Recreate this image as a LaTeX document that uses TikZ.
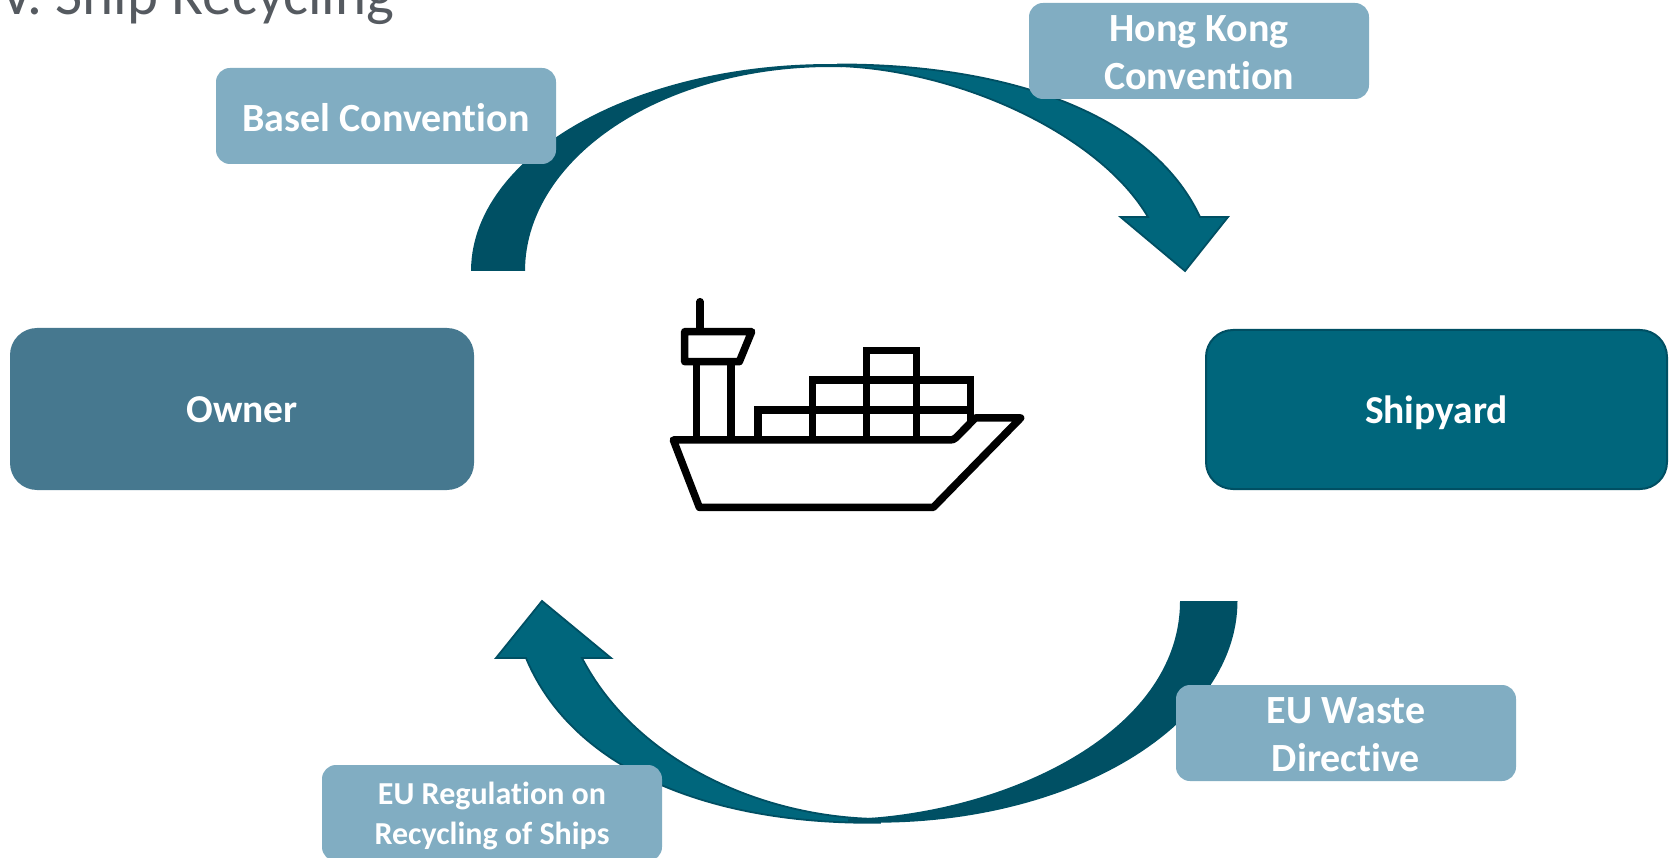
\documentclass[tikz,border=0pt]{standalone}
\usepackage{fontspec}
\setmainfont[Ligatures=NoCommon]{Carlito}
\definecolor{bandDark}{HTML}{005064}
\definecolor{bandLight}{HTML}{00667C}
\definecolor{edgeDark}{HTML}{004F63}
\definecolor{ownerBlue}{HTML}{46788F}
\definecolor{labelBlue}{HTML}{81ADC2}
\definecolor{titleGrey}{HTML}{555A60}
\newcommand{\topline}[1]{\rule{0pt}{#1pt}}
\newcommand{\botline}[1]{\rule[-#1pt]{0pt}{#1pt}}
\tikzset{
  labelbox/.style={fill=labelBlue,draw=none,rounded corners=14pt,minimum width=340pt,minimum height=96pt,inner sep=0pt,text=white,align=center,font=\fontsize{40}{48}\selectfont\bfseries},
  smalllabel/.style={labelbox,font=\fontsize{32}{40}\selectfont\bfseries},
  singleline/.style={text height=38pt,text depth=10pt},
  partybox/.style={rounded corners=27pt,inner sep=0pt,text=white,singleline,font=\fontsize{39.5}{44}\selectfont\bfseries},
  backband/.style={fill=bandDark,draw=none},
  frontarrow/.style={fill=bandLight,draw=edgeDark,line width=1.8pt,line join=miter},
  shipline/.style={draw=black,line width=7.5pt,line join=round,line cap=round},
  shipbar/.style={draw=black,line width=7.5pt,line join=miter,line cap=butt}
}
\begin{document}
\begin{tikzpicture}[x=1pt,y=-1pt]
\useasboundingbox (0,0) rectangle (1671,858);
\clip (0,0) rectangle (1671,858);
\node[anchor=base west,inner sep=0pt,text=titleGrey,font=\fontsize{59}{60}\selectfont] (title) at (0,15) {V. Ship Recycling};

% top curved arrow
\fill[frontarrow] (838,64.5) .. controls (1000,64) and (1150,110) .. (1200,217)
  -- (1228,217) -- (1185,271) -- (1120.5,217) -- (1148,217)
  .. controls (1100,135) and (960,70) .. (838,66) -- cycle;
\fill[backband] plot[domain=180:282,samples=60,variable=\t] ({830+359*cos(\t)},{271+207*sin(\t)}) -- (842,64) -- (842,67)
  -- plot[domain=272:180,samples=60,variable=\t] ({830+305*cos(\t)},{271+204*sin(\t)}) -- cycle;

% bottom curved arrow
\fill[frontarrow] (880,822.7) .. controls (720,825) and (575,775) .. (526,658)
  -- (496,658) -- (542,601) -- (611,658) -- (582,658)
  .. controls (635,760) and (760,818) .. (880,819) -- cycle;
\fill[backband] plot[domain=0:90,samples=60,variable=\t] ({877+360.5*cos(\t)},{601+221.7*sin(\t)}) -- (848,822.7) -- (848,819)
  .. controls (1000,815) and (1180,735) .. (1180,601) -- cycle;

% labels and parties
\node[labelbox,text height=38pt,text depth=6pt] (basel) at (386,116) {Basel Convention};
\node[labelbox] (hk) at (1199,51) {\topline{39}Hong Kong\\Convention\botline{9}};
\node[labelbox] (waste) at (1346,733) {\topline{38}EU Waste\\Directive\botline{10}};
\node[labelbox,smalllabel] (reg) at (492,813) {\topline{34}EU Regulation on\\Recycling of Ships\botline{11}};
\node[partybox,fill=ownerBlue,minimum width=464pt,minimum height=162pt] (owner) at (242,409) {Owner};
\node[partybox,fill=bandLight,draw=edgeDark,line width=2pt,minimum width=461pt,minimum height=159pt] (yard) at (1436.5,409.5) {Shipyard};

% ship
\begin{scope}[shift={(650,280)},xscale=1/3,yscale=1/3]
\draw[shipline] (150,65) -- (150,150);
\draw[shipline] (104,155) -- (305,155) -- (268,245) -- (104,245) -- cycle;
\draw[shipbar] (139,245) -- (139,480) (243,245) -- (243,480);
\draw[shipline] (70,480) -- (900,480) .. controls (908,480) and (912,478) .. (918,473) -- (976,414) -- (1112,414) -- (850,682) -- (148,682) -- cycle;
\draw[shipbar] (324,480) -- (324,390) -- (962,390);
\draw[shipbar] (487,480) -- (487,300) -- (962,300) -- (962,430);
\draw[shipbar] (650,480) -- (650,211) -- (800,211) -- (800,480);
\end{scope}
\end{tikzpicture}
\end{document}
